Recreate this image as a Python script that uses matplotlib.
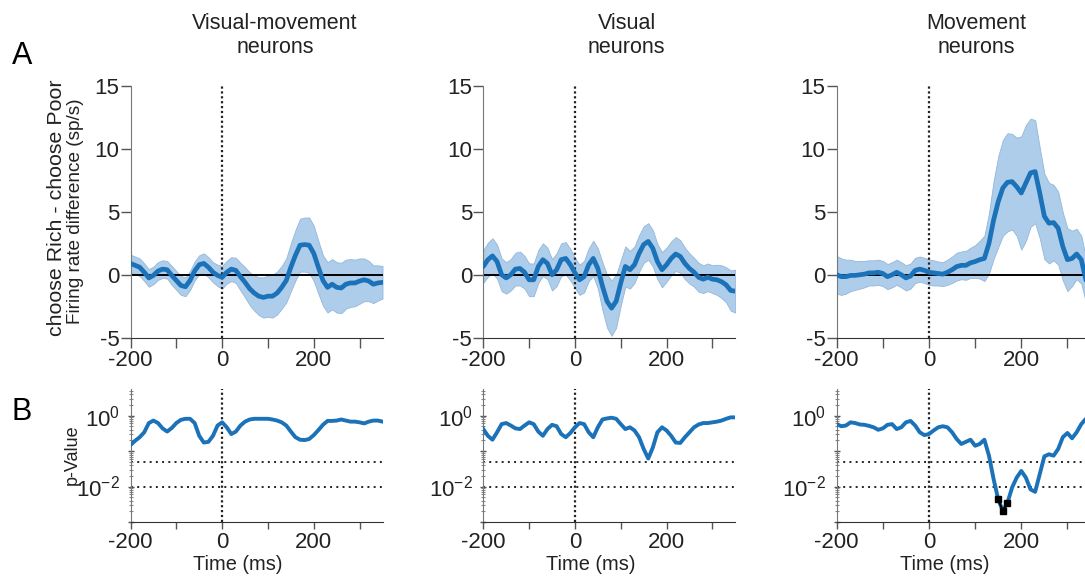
import numpy as np
import matplotlib
matplotlib.use("Agg")
import matplotlib.pyplot as plt
from matplotlib.ticker import FixedLocator, LogLocator, NullFormatter

plt.rcParams["font.family"] = ["Liberation Sans", "DejaVu Sans"]
plt.rcParams["mathtext.fontset"] = "custom"
plt.rcParams["mathtext.rm"] = "Liberation Sans"
plt.rcParams["axes.unicode_minus"] = False

# time axis (ms), one sample every 10 ms
time_ms = np.arange(-200, 351, 10)

titles = ["Visual-movement\nneurons", "Visual\nneurons", "Movement\nneurons"]

# ---- firing rate difference, choose Rich - choose Poor (sp/s) ----
vm_mean = [0.9, 0.75, 0.6, 0.2, -0.25, -0.05, 0.3, 0.45, 0.4, -0.05,
           -0.45, -0.85, -0.95, -0.45, 0.3, 0.8, 0.9, 0.6, 0.2, -0.05,
           -0.2, 0.2, 0.45, 0.35, -0.15, -0.6, -1.1, -1.45, -1.7, -1.8,
           -1.7, -1.7, -1.45, -1.0, -0.45, 0.6, 1.55, 2.35, 2.4, 2.35,
           1.7, 0.6, -0.45, -1.0, -0.75, -1.0, -1.05, -0.75, -0.65, -0.65,
           -0.5, -0.4, -0.5, -0.75, -0.65, -0.6]
vm_sem = [0.7, 0.7, 0.7, 0.7, 0.7, 0.7, 0.7, 0.7, 0.7, 0.75,
          0.75, 0.75, 0.75, 0.75, 0.75, 0.75, 0.8, 0.8, 0.8, 0.85,
          0.9, 0.9, 0.95, 1.0, 1.1, 1.2, 1.3, 1.4, 1.5, 1.6,
          1.65, 1.7, 1.7, 1.7, 1.75, 1.9, 2.0, 2.1, 2.15, 2.2,
          2.2, 2.1, 2.0, 2.0, 2.0, 2.0, 2.0, 1.95, 1.9, 1.85,
          1.8, 1.7, 1.6, 1.5, 1.4, 1.3]

vis_mean = [0.66, 1.2, 1.5, 1.05, 0.0, -0.25, 0.0, 0.45, 0.5, 0.2,
            -0.4, -0.4, 0.66, 1.2, 0.9, 0.0, 0.4, 1.2, 1.3, 0.8,
            0.15, -0.4, -0.15, 0.8, 1.3, 0.5, -0.9, -2.1, -2.65, -2.1,
            -0.65, 0.66, 0.4, 0.8, 1.7, 2.4, 2.65, 2.1, 1.05, 0.4,
            0.8, 1.3, 1.65, 1.45, 0.9, 0.5, 0.2, -0.2, -0.35, -0.2,
            -0.35, -0.4, -0.55, -0.8, -1.25, -1.3]
vis_sem = [1.3, 1.35, 1.4, 1.35, 1.3, 1.25, 1.25, 1.3, 1.35, 1.3,
           1.3, 1.3, 1.3, 1.3, 1.25, 1.25, 1.3, 1.3, 1.3, 1.25,
           1.2, 1.2, 1.25, 1.3, 1.4, 1.6, 1.9, 2.1, 2.2, 2.1,
           1.8, 1.6, 1.5, 1.45, 1.45, 1.45, 1.45, 1.45, 1.4, 1.4,
           1.35, 1.35, 1.35, 1.3, 1.25, 1.2, 1.15, 1.15, 1.1, 1.1,
           1.1, 1.2, 1.3, 1.4, 1.6, 1.7]

mov_mean = [0.0, -0.15, -0.15, -0.05, -0.05, 0.0, 0.05, 0.15, 0.15, 0.2,
            0.1, -0.15, 0.0, 0.2, 0.0, -0.25, -0.1, 0.35, 0.45, 0.35,
            0.2, 0.15, 0.1, 0.05, 0.2, 0.4, 0.65, 0.75, 0.75, 0.95,
            1.05, 1.2, 1.3, 2.5, 4.35, 5.8, 6.9, 7.35, 7.4, 7.0,
            6.5, 7.3, 8.1, 8.2, 6.5, 4.65, 4.1, 4.15, 3.7, 2.25,
            1.2, 1.3, 1.65, 1.2, -0.4, -2.0]
mov_sem = [1.5, 1.45, 1.35, 1.25, 1.15, 1.1, 1.05, 1.0, 1.0, 1.0,
           1.0, 1.0, 1.0, 1.0, 1.0, 1.0, 1.0, 1.0, 1.0, 1.0,
           1.0, 1.0, 0.95, 0.95, 1.0, 1.05, 1.1, 1.1, 1.15, 1.2,
           1.3, 1.5, 1.8, 2.4, 3.1, 3.6, 3.8, 3.9, 3.8, 3.9,
           4.5, 4.6, 4.3, 4.1, 3.6, 3.4, 3.2, 3.0, 2.9, 2.7,
           2.5, 2.2, 2.0, 1.9, 1.8, 1.8]

# ---- p-values, stored as log10(p) ----
vm_logp = [-0.83, -0.71, -0.61, -0.47, -0.21, -0.14, -0.21, -0.36, -0.45, -0.35,
           -0.21, -0.12, -0.09, -0.09, -0.21, -0.57, -0.76, -0.74, -0.57, -0.28,
           -0.19, -0.33, -0.52, -0.45, -0.28, -0.17, -0.11, -0.09, -0.09, -0.09,
           -0.09, -0.11, -0.14, -0.19, -0.28, -0.45, -0.61, -0.68, -0.69, -0.66,
           -0.55, -0.41, -0.26, -0.15, -0.15, -0.14, -0.11, -0.14, -0.17, -0.17,
           -0.19, -0.22, -0.17, -0.14, -0.14, -0.17]
vis_logp = [-0.38, -0.57, -0.68, -0.47, -0.24, -0.21, -0.28, -0.36, -0.38, -0.28,
            -0.19, -0.24, -0.45, -0.57, -0.38, -0.26, -0.30, -0.52, -0.61, -0.49,
            -0.33, -0.21, -0.24, -0.47, -0.61, -0.33, -0.11, -0.08, -0.06, -0.09,
            -0.24, -0.38, -0.33, -0.42, -0.61, -0.94, -1.21, -0.90, -0.47, -0.33,
            -0.42, -0.57, -0.76, -0.77, -0.61, -0.47, -0.33, -0.25, -0.21, -0.21,
            -0.19, -0.17, -0.14, -0.09, -0.05, -0.05]
mov_logp = [-0.24, -0.30, -0.28, -0.19, -0.21, -0.25, -0.26, -0.29, -0.33, -0.40,
            -0.36, -0.26, -0.24, -0.38, -0.33, -0.19, -0.15, -0.28, -0.47, -0.55,
            -0.52, -0.42, -0.33, -0.30, -0.33, -0.47, -0.66, -0.80, -0.74, -0.68,
            -0.85, -0.80, -0.68, -1.13, -1.79, -2.36, -2.69, -2.46, -2.03, -1.75,
            -1.56, -1.75, -2.08, -2.15, -1.65, -1.15, -1.09, -1.13, -0.94, -0.61,
            -0.49, -0.64, -0.47, -0.24, -0.09, 0.0]

means = [vm_mean, vis_mean, mov_mean]
sems = [vm_sem, vis_sem, mov_sem]
logps = [vm_logp, vis_logp, mov_logp]

alpha_levels = [0.05, 0.01]
sig_level = 0.005

LINE = "#1b72b8"
FILL = "#aecdea"
SPINE = "#555555"
TXT = "#222222"

W, H = 1085, 579
fig = plt.figure(figsize=(W / 100, H / 100), dpi=100)


def px_axes(left, top, width, height):
    return fig.add_axes([left / W, 1 - (top + height) / H, width / W, height / H])


lefts = [130.5, 483.3, 836.7]
widths = [252, 252, 253.8]
title_x = [275, 626.7, 976.7]

for k in range(3):
    # =========================================================
    # FIRING RATE DIFFERENCE
    # =========================================================
    ax = px_axes(lefts[k], 86, widths[k], 251.7)
    m = np.array(means[k])
    s = np.array(sems[k])
    ax.fill_between(time_ms, m - s, m + s, color=FILL, edgecolor="#93b7da",
                    linewidth=0.6, zorder=1)
    ax.axhline(0, color="black", lw=1.4, zorder=2)
    ax.axvline(0, color="#222222", lw=1.6, ls=(0, (1, 1.2)), zorder=2)
    ax.plot(time_ms, m, color=LINE, lw=3.4, zorder=3, solid_capstyle="round")

    ax.set_xlim(-200, 350)
    ax.set_ylim(-5, 15)
    ax.set_yticks([-5, 0, 5, 10, 15])
    ax.set_xticks(range(-200, 301, 100))
    ax.set_xticklabels(["-200", "", "0", "", "200", ""])
    for sp in ["top", "right"]:
        ax.spines[sp].set_visible(False)
    ax.spines["left"].set_color("#777777")
    ax.spines["bottom"].set_color("#333333")
    ax.tick_params(axis="both", direction="out", length=7, width=1,
                   color=SPINE, labelsize=16, labelcolor=TXT, pad=1)
    ax.tick_params(axis="x", pad=2)

    fig.text(title_x[k] / W, 1 - 35.5 / H, titles[k], ha="center", va="center",
             fontsize=15.5, color=TXT, linespacing=1.15)

    # =========================================================
    # P-VALUE
    # =========================================================
    bx = px_axes(lefts[k], 389, widths[k], 133)
    p = 10 ** np.array(logps[k])
    for a in alpha_levels:
        bx.axhline(a, color="#222222", lw=1.4, ls=(0, (1, 2.2)), zorder=1)
    bx.axvline(0, color="#222222", lw=1.6, ls=(0, (1, 1.2)), zorder=1)
    bx.plot(time_ms, p, color=LINE, lw=2.8, zorder=3)
    sig = p < sig_level
    if sig.any():
        bx.plot(time_ms[sig], p[sig], color="black", lw=1.5, marker="s",
                ms=4, zorder=4)

    bx.set_yscale("log")
    bx.set_xlim(-200, 350)
    bx.set_ylim(1e-3, 10 ** 0.75)
    bx.yaxis.set_major_locator(FixedLocator([1e-3, 1e-2, 1e-1, 1.0]))
    bx.set_yticklabels(["", "10$^{-2}$", "", "10$^{0}$"])
    bx.yaxis.set_minor_locator(LogLocator(base=10, subs=np.arange(2, 10)))
    bx.yaxis.set_minor_formatter(NullFormatter())
    bx.set_xticks(range(-200, 301, 100))
    bx.set_xticklabels(["-200", "", "0", "", "200", ""])
    for sp in ["top", "right"]:
        bx.spines[sp].set_visible(False)
    bx.spines["left"].set_color("#777777")
    bx.spines["bottom"].set_color("#333333")
    bx.tick_params(axis="x", direction="out", length=5, width=1, color=SPINE,
                   labelsize=16, labelcolor=TXT, pad=2.5)
    bx.tick_params(axis="y", which="major", direction="inout", length=5, width=1,
                   color=SPINE, labelsize=16, labelcolor=TXT, pad=5)
    bx.tick_params(axis="y", which="minor", direction="inout", length=3,
                   width=0.8, color="#888888")
    bx.set_xlabel("Time (ms)", fontsize=14.4, color=TXT, labelpad=0)
    bx.xaxis.set_label_coords(0.427, -0.25)

# panel letters and shared y labels
fig.text(22 / W, 1 - 56 / H, "A", ha="center", va="center", fontsize=22, color="black")
fig.text(21.5 / W, 1 - 412.5 / H, "B", ha="center", va="center", fontsize=22, color="black")
fig.text(57 / W, 1 - 208 / H, "choose Rich - choose Poor", rotation=90,
         ha="center", va="center", fontsize=15.4, color=TXT)
fig.text(75 / W, 1 - 211 / H, "Firing rate difference (sp/s)", rotation=90,
         ha="center", va="center", fontsize=13.7, color=TXT)
fig.text(72 / W, 1 - 455 / H, "p-Value", rotation=90,
         ha="center", va="center", fontsize=13, color=TXT)

fig.savefig("out.png", dpi=100)
